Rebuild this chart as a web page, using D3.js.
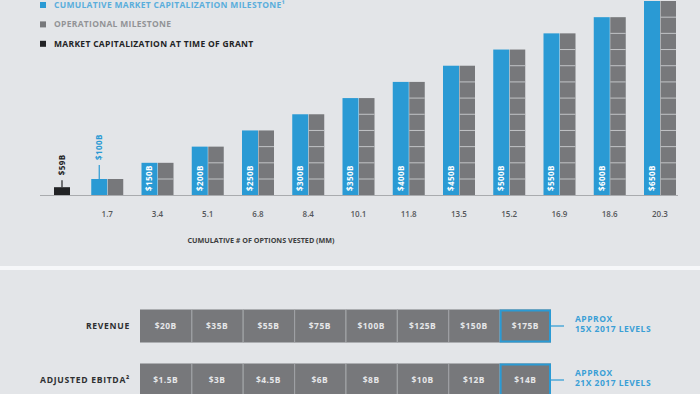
<!DOCTYPE html>
<html>
<head>
<meta charset="utf-8">
<style>
body{margin:0;background:#e3e5e8;overflow:hidden}
svg{display:block;font-family:"Open Sans",sans-serif;font-weight:700}
</style>
</head>
<body>
<svg width="700" height="394"></svg>
<script src="https://d3js.org/d3.v7.min.js"></script>
<script>
// values
var optionsVested = ["1.7", "3.4", "5.1", "6.8", "8.4", "10.1", "11.8", "13.5", "15.2", "16.9", "18.6", "20.3"];
var capMilestones = [100, 150, 200, 250, 300, 350, 400, 450, 500, 550, 600, 650];
var grantCap = 59;
var legendLabels = ["CUMULATIVE MARKET CAPITALIZATION MILESTONE\u00b9", "OPERATIONAL MILESTONE", "MARKET CAPITALIZATION AT TIME OF GRANT"];
var rowLabels = ["REVENUE", "ADJUSTED EBITDA\u00b2"];
var revenue = [20, 35, 55, 75, 100, 125, 150, 175];
var ebitda = [1.5, 3, 4.5, 6, 8, 10, 12, 14];
var approxNotes = [["APPROX", "15X 2017 LEVELS"], ["APPROX", "21X 2017 LEVELS"]];

var blue = "#2a9ad4", gray = "#77787b", dark = "#222325";
var svg = d3.select("svg");

var x = d3.scalePoint().domain(["grant"].concat(optionsVested)).range([57, 660]);
var y = d3.scaleLinear().domain([20, 100, 650]).range([195, 179, 1]);
var base = y(20), bw = 16;
function money(v) { return "$" + v + "B"; }

// legend
var legendColors = [blue, gray, dark], legendText = ["#5aaedc", "#929396", dark];
var lg = svg.append("g").selectAll("g").data(legendLabels).enter().append("g")
    .attr("transform", function(d, i) { return "translate(40," + (5 + i * 19.4) + ")"; });
lg.append("rect").attr("x", 0).attr("y", -3).attr("width", 6).attr("height", 6)
    .attr("fill", function(d, i) { return legendColors[i]; });
lg.append("text").attr("x", 14).attr("dy", "0.35em").attr("font-size", 8.5).attr("letter-spacing", 0.3)
    .attr("fill", function(d, i) { return legendText[i]; }).text(function(d) { return d; });

// baseline
svg.append("line").attr("x1", 40).attr("x2", 678).attr("y1", base + 0.5).attr("y2", base + 0.5)
    .attr("stroke", "#a9abae").attr("stroke-width", 1);

// grant bar
var gx = x("grant") + 5;
svg.append("rect").attr("x", gx - bw / 2).attr("y", y(grantCap)).attr("width", bw)
    .attr("height", base - y(grantCap)).attr("fill", dark);
svg.append("line").attr("x1", gx).attr("x2", gx).attr("y1", y(grantCap)).attr("y2", y(grantCap) - 7)
    .attr("stroke", dark).attr("stroke-width", 1.2);
svg.append("text").attr("transform", "translate(" + gx + "," + (y(grantCap) - 12) + ") rotate(-90)")
    .attr("dy", "0.35em").attr("font-size", 8).attr("letter-spacing", 0.4).attr("fill", dark).text(money(grantCap));

// milestone pairs
var pairs = svg.append("g").selectAll("g").data(capMilestones).enter().append("g")
    .attr("transform", function(d, i) { return "translate(" + x(optionsVested[i]) + ",0)"; });
pairs.append("rect").attr("x", -bw).attr("y", function(d) { return y(d); }).attr("width", bw)
    .attr("height", function(d) { return base - y(d); }).attr("fill", blue);
pairs.append("rect").attr("x", 0.5).attr("y", function(d) { return y(d); }).attr("width", bw - 0.5)
    .attr("height", function(d) { return base - y(d); }).attr("fill", gray);
pairs.selectAll("line.seg").data(function(d) { return d3.range(100, d, 50); }).enter().append("line")
    .attr("class", "seg").attr("x1", 0.5).attr("x2", bw).attr("y1", function(k) { return y(k); })
    .attr("y2", function(k) { return y(k); }).attr("stroke", "#c2c4c7").attr("stroke-width", 1);
pairs.append("text")
    .attr("transform", function(d, i) {
      return i === 0 ? "translate(" + (-bw / 2) + "," + (y(d) - 19) + ") rotate(-90)"
                     : "translate(" + (-bw / 2) + "," + (base - 4) + ") rotate(-90)";
    })
    .attr("dy", "0.35em").attr("font-size", 8).attr("letter-spacing", 0.4)
    .attr("fill", function(d, i) { return i === 0 ? blue : "#fff"; })
    .text(function(d) { return money(d); });
svg.append("line").attr("x1", x(optionsVested[0]) - bw / 2).attr("x2", x(optionsVested[0]) - bw / 2)
    .attr("y1", y(capMilestones[0])).attr("y2", y(capMilestones[0]) - 14).attr("stroke", blue).attr("stroke-width", 1.2);

// x tick labels
svg.append("g").selectAll("text").data(optionsVested).enter().append("text")
    .attr("x", function(d) { return x(d); }).attr("y", 217).attr("text-anchor", "middle")
    .attr("font-size", 8).attr("font-weight", 600).attr("fill", "#55575a").text(function(d) { return d; });
svg.append("text").attr("x", 261).attr("y", 243).attr("text-anchor", "middle").attr("font-size", 7.2)
    .attr("fill", "#3d3e40").text("CUMULATIVE # OF OPTIONS VESTED (MM)");

// divider
svg.append("rect").attr("x", 0).attr("y", 266).attr("width", 700).attr("height", 4).attr("fill", "#f6f7f9");

// table
var cx = d3.scaleBand().domain(d3.range(revenue.length)).range([140, 551]);
var rowY = d3.scalePoint().domain(rowLabels).range([309.5, 363.5]);
var rowH = 33;
[revenue, ebitda].forEach(function(vals, r) {
  var ry = rowY(rowLabels[r]);
  var row = svg.append("g");
  row.append("text").attr("x", 130).attr("y", ry + rowH / 2).attr("dy", "0.35em").attr("text-anchor", "end")
      .attr("font-size", 8.6).attr("letter-spacing", 0.7).attr("fill", "#2e2f31").text(rowLabels[r]);
  var cell = row.selectAll("g").data(vals).enter().append("g")
      .attr("transform", function(d, i) { return "translate(" + cx(i) + "," + ry + ")"; });
  cell.append("rect").attr("width", cx.bandwidth()).attr("height", rowH).attr("fill", gray);
  cell.filter(function(d, i) { return i > 0; }).append("line").attr("x1", 0.5).attr("x2", 0.5)
      .attr("y1", 0).attr("y2", rowH).attr("stroke", "#a3a5a8").attr("stroke-width", 1);
  cell.append("text").attr("x", cx.bandwidth() / 2).attr("y", rowH / 2).attr("dy", "0.35em")
      .attr("text-anchor", "middle").attr("font-size", 8.4).attr("letter-spacing", 0.5).attr("fill", "#e6e7e9")
      .text(function(d) { return money(d); });
  var last = vals.length - 1;
  row.append("rect").attr("x", cx(last) + 1).attr("y", ry + 1).attr("width", cx.bandwidth() - 2)
      .attr("height", rowH - 2).attr("fill", "none").attr("stroke", blue).attr("stroke-width", 2);
  row.append("line").attr("x1", cx(last) + cx.bandwidth()).attr("x2", 564)
      .attr("y1", ry + rowH / 2).attr("y2", ry + rowH / 2).attr("stroke", blue).attr("stroke-width", 1.2);
  row.selectAll("text.note").data(approxNotes[r]).enter().append("text").attr("class", "note")
      .attr("x", 575).attr("y", function(d, i) { return ry + 12 + i * 10.5; })
      .attr("font-size", 8.5).attr("letter-spacing", 0.5).attr("fill", "#3a9fd6").text(function(d) { return d; });
});
</script>
</body>
</html>
